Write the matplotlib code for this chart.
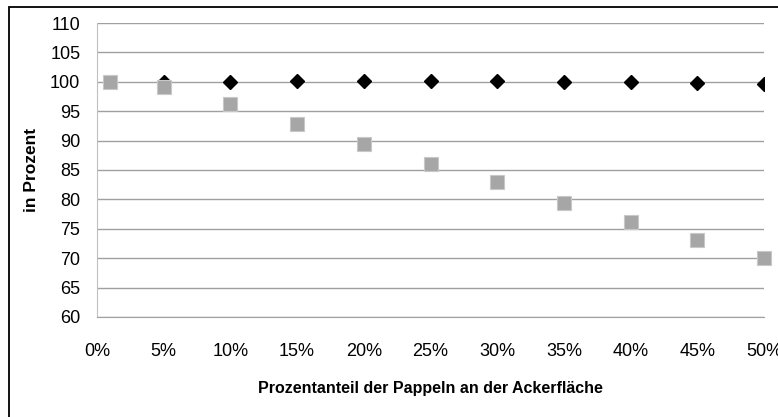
import matplotlib as mpl
mpl.use('Agg')
from matplotlib import pyplot as plt
from matplotlib.patches import Rectangle
from matplotlib.ticker import FuncFormatter

# Anteil der Pappeln an der Ackerfläche (Bruchteil)
anteil = [0.01, 0.05, 0.10, 0.15, 0.20, 0.25, 0.30, 0.35, 0.40, 0.45, 0.50]
reihe_schwarz = [100.0, 100.0, 100.0, 100.1, 100.1, 100.1, 100.1, 100.0, 99.9, 99.8, 99.7]
reihe_grau = [100.0, 99.1, 96.2, 92.9, 89.4, 86.0, 82.9, 79.4, 76.2, 73.1, 70.0]

x_ticks = [0, 0.05, 0.10, 0.15, 0.20, 0.25, 0.30, 0.35, 0.40, 0.45, 0.50]
y_ticks = list(range(60, 111, 5))

plt.rcParams['font.family'] = ['Liberation Sans Narrow', 'Liberation Sans', 'DejaVu Sans']

fig = plt.figure(figsize=(7.78, 4.17), dpi=100)
ax = fig.add_axes([97 / 778, 1 - 317 / 417, (764 - 97) / 778, (317 - 23) / 417])

ax.plot(anteil, reihe_schwarz, linestyle='none', marker='D', markersize=7.5,
        color='black', zorder=3)
ax.plot(anteil, reihe_grau, linestyle='none', marker='s', markersize=10,
        markerfacecolor='#a6a6a6', markeredgecolor='#c8c8c8', markeredgewidth=0.8,
        zorder=4, clip_on=False)

ax.set_xlim(0, 0.5)
ax.set_ylim(60, 110)
ax.set_xticks(x_ticks)
ax.set_yticks(y_ticks)
ax.xaxis.set_major_formatter(FuncFormatter(lambda v, p: '%d%%' % round(v * 100)))
ax.tick_params(axis='both', length=0, labelsize=13)
ax.tick_params(axis='x', pad=19)
ax.tick_params(axis='y', pad=12)

ax.grid(True, axis='y', color='#a0a0a0', linewidth=1.0)
ax.set_axisbelow(True)
for s in ['top', 'right']:
    ax.spines[s].set_visible(False)
ax.spines['left'].set_color('#c0c0c0')
ax.spines['bottom'].set_color('#a0a0a0')

ax.set_xlabel('Prozentanteil der Pappeln an der Ackerfläche', fontsize=11.5,
              fontweight='bold', labelpad=15)
ax.set_ylabel('in Prozent', fontsize=12.5, fontweight='bold', labelpad=8)

# Rahmen des Diagramms (nur links und oben sichtbar)
fig.add_artist(Rectangle((9 / 778, -0.2), 2.0, 1.2 - 7 / 417, transform=fig.transFigure,
                         fill=False, edgecolor='black', linewidth=1.3))

plt.savefig('out.png', dpi=100)
